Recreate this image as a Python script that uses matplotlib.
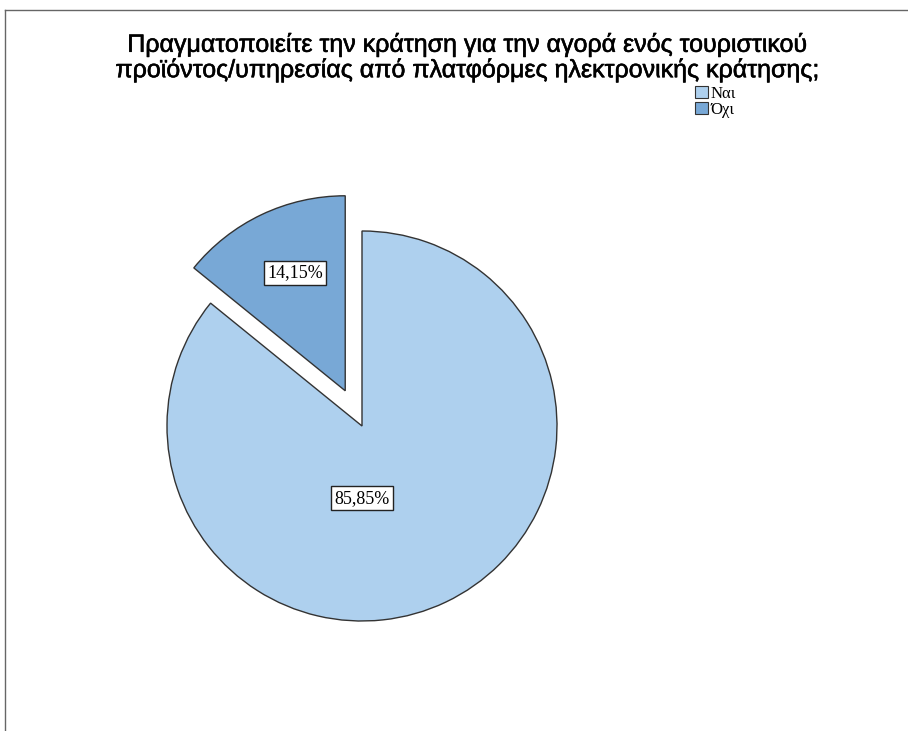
import matplotlib.pyplot as plt
from matplotlib.lines import Line2D
from matplotlib.patches import Patch
import matplotlib.patheffects as pe
import numpy as np

title = ('Πραγματοποιείτε την κράτηση για την αγορά ενός τουριστικού\n'
         'προϊόντος/υπηρεσίας από πλατφόρμες ηλεκτρονικής κράτησης;')
labels = ['Ναι', 'Όχι']
shares = [85.85, 14.15]
colors = ['#aed0ee', '#78a8d6']
explode = [0, 0.2]

W, H = 908, 731
fig = plt.figure(figsize=(W / 100, H / 100), dpi=100)

# outer frame (left and top edges visible)
fig.add_artist(Line2D([5 / W, 5 / W], [0, 1 - 10 / H], color='#666666', lw=1))
fig.add_artist(Line2D([5 / W, 1], [1 - 10 / H, 1 - 10 / H], color='#666666', lw=1))

fig.text(467 / W, 1 - 57 / H, title, ha='center', va='center',
         fontsize=18, family='Liberation Sans', linespacing=1.02,
         path_effects=[pe.withStroke(linewidth=0.4, foreground='black')])

# pie axes: centre at (362, 426) px, radius 195 px
cx, cy, r, half = 362, 426, 195, 300
ax = fig.add_axes([(cx - half) / W, 1 - (cy + half) / H, 2 * half / W, 2 * half / H])

wedges, _ = ax.pie(shares, colors=colors, explode=explode, startangle=90,
                   counterclock=False,
                   wedgeprops=dict(edgecolor='#333333', linewidth=1.0))
ax.set_xlim(-half / r, half / r)
ax.set_ylim(-half / r, half / r)
ax.set_aspect('equal')
ax.axis('off')

box = dict(boxstyle='square,pad=0.18', facecolor='white', edgecolor='#222222', lw=1)
fmt = lambda v: f'{v:.2f}%'.replace('.', ',')
ax.text(0, -0.37, fmt(shares[0]), ha='center', va='center', fontsize=13,
        family='Liberation Serif', bbox=box)
w = wedges[1]
mid = np.deg2rad((w.theta1 + w.theta2) / 2)
ox, oy = explode[1] * np.cos(mid), explode[1] * np.sin(mid)
ax.text(ox + 0.67 * np.cos(mid) + 0.03, oy + 0.67 * np.sin(mid), fmt(shares[1]),
        ha='center', va='center', fontsize=13, family='Liberation Serif', bbox=box)

handles = [Patch(facecolor=c, edgecolor='#333333', lw=0.8) for c in colors]
fig.legend(handles, labels, loc='upper left', bbox_to_anchor=(695 / W, 1 - 86 / H),
           frameon=False, prop=dict(family='Liberation Serif', size=12),
           handlelength=0.75, handleheight=0.75, handletextpad=0.2,
           labelspacing=0.0, borderpad=0, borderaxespad=0)

fig.savefig('out.png', dpi=100)
